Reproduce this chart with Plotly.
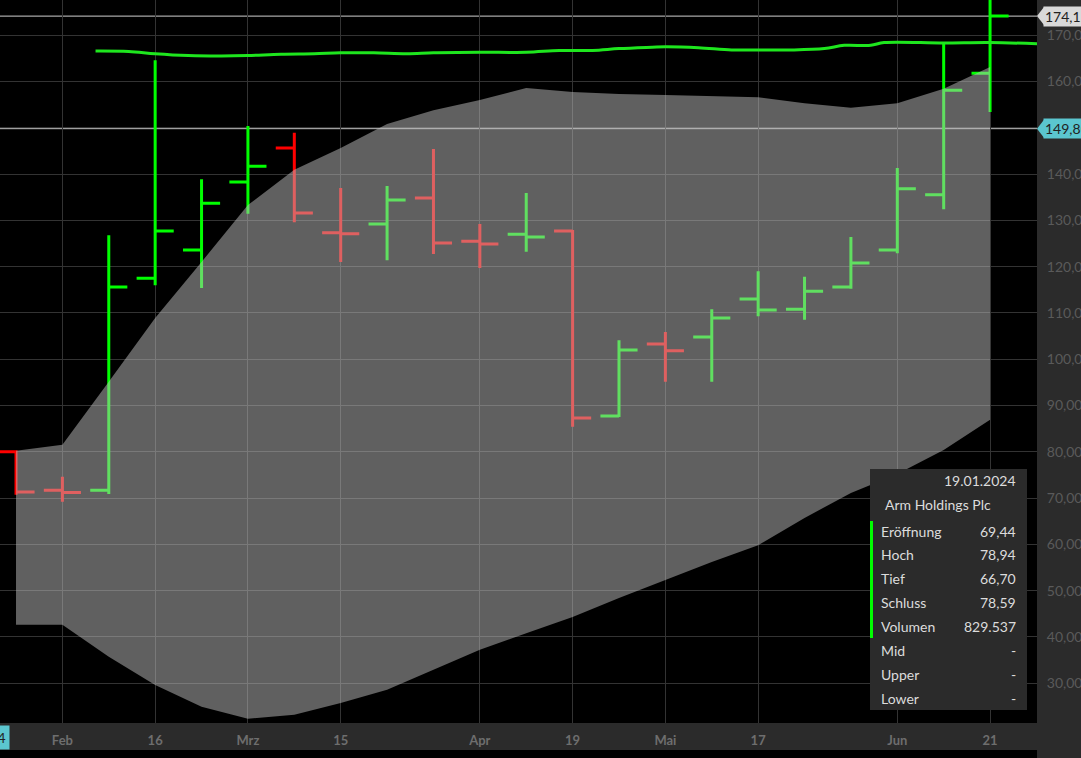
import plotly.graph_objects as go

# ---------------- data ----------------
dates = ["2024-01-19", "2024-01-26", "2024-02-02", "2024-02-09", "2024-02-16", "2024-02-23",
         "2024-03-01", "2024-03-08", "2024-03-15", "2024-03-22", "2024-03-29", "2024-04-05",
         "2024-04-12", "2024-04-19", "2024-04-26", "2024-05-03", "2024-05-10", "2024-05-17",
         "2024-05-24", "2024-05-31", "2024-06-07", "2024-06-14", "2024-06-21"]
opens = [69.44, 80.0, 71.7, 71.7, 117.5, 123.6, 138.3, 145.6, 127.3, 129.2, 134.8, 125.5,
         127.0, 127.7, 87.7, 103.3, 104.8, 113.0, 110.8, 115.6, 123.6, 135.5, 161.8]
highs = [78.94, 80.3, 74.6, 126.8, 164.6, 138.9, 150.4, 148.9, 137.0, 137.4, 145.4, 129.2,
         135.9, 127.9, 104.1, 105.9, 110.8, 119.0, 117.8, 126.4, 141.3, 168.1, 181.0]
lows = [66.70, 70.7, 69.2, 70.9, 116.0, 115.4, 131.4, 129.6, 121.0, 121.4, 122.7, 119.7,
        123.2, 85.4, 87.5, 95.1, 95.1, 109.3, 108.5, 115.2, 122.9, 132.4, 153.4]
closes = [78.59, 71.3, 71.2, 115.6, 127.7, 133.7, 141.7, 131.6, 127.1, 134.4, 125.1, 124.9,
          126.4, 87.3, 102.0, 101.8, 108.9, 110.6, 114.7, 120.8, 136.8, 158.1, 174.12]
volume_first = 829537

band_dates = dates[1:]
band_upper = [80.2, 81.5, 95.1, 108.9, 121.0, 133.3, 140.9, 145.6, 150.8, 153.8, 156.0,
              158.6, 157.7, 157.3, 157.1, 156.8, 156.6, 155.3, 154.3, 155.3, 158.4, 163.1]
band_lower = [42.6, 42.6, 35.7, 29.6, 24.9, 22.3, 23.2, 25.7, 28.6, 32.9, 37.2,
              40.8, 44.3, 48.4, 52.3, 56.2, 59.8, 65.7, 71.1, 75.2, 80.4, 86.9]

line_dates = ["2024-02-07", "2024-02-12", "2024-02-16", "2024-02-21", "2024-02-26", "2024-03-01",
              "2024-03-06", "2024-03-11", "2024-03-15", "2024-03-20", "2024-03-25", "2024-03-29",
              "2024-04-05", "2024-04-12", "2024-04-17", "2024-04-22", "2024-04-26", "2024-05-01",
              "2024-05-03", "2024-05-08", "2024-05-13", "2024-05-17", "2024-05-22", "2024-05-27",
              "2024-05-30", "2024-06-03", "2024-06-05", "2024-06-14", "2024-06-21", "2024-07-01"]
line_values = [166.6, 166.5, 166.0, 165.6, 165.5, 165.6, 165.9, 166.0, 166.2, 166.2, 166.0, 166.2,
               166.3, 166.3, 166.7, 166.7, 167.1, 167.4, 167.5, 167.3, 166.8, 166.8, 166.8, 167.1,
               167.8, 167.8, 168.4, 168.3, 168.4, 168.0]

tick_dates = ["2024-02-02", "2024-02-16", "2024-03-01", "2024-03-15", "2024-04-05",
              "2024-04-19", "2024-05-03", "2024-05-17", "2024-06-07", "2024-06-21"]
tick_text = ["Feb", "16", "Mrz", "15", "Apr", "19", "Mai", "17", "Jun", "21"]

last_price = 174.12
cross_price = 149.80
cross_date = "19.01.2024"
title_name = "Arm Holdings Plc"

# ---------------- helpers ----------------
W, H = 1081, 758
ML, MR, MT, MB = 0, 44, 0, 35
PW, PH = W - ML - MR, H - MT - MB
UNITS_PER_PX = (177.6 - 21.4) / PH


def px(x):
    return (x - ML) / PW


def py(y):
    return 1 - (y - MT) / PH


def de(v):
    return f"{v:.2f}".replace(".", ",")


up = [True] + [closes[i] >= closes[i - 1] for i in range(1, len(closes))]


def pick(arr, flag):
    return [a for a, u in zip(arr, up) if u == flag]


fig = go.Figure()
for flag, col in [(True, "#00ff00"), (False, "#ff0000")]:
    fig.add_trace(go.Ohlc(
        x=pick(dates, flag), open=pick(opens, flag), high=pick(highs, flag),
        low=pick(lows, flag), close=pick(closes, flag),
        increasing=dict(line=dict(color=col, width=3)),
        decreasing=dict(line=dict(color=col, width=3)),
        tickwidth=0.4, showlegend=False, hoverinfo="skip"))

fig.add_trace(go.Scatter(x=band_dates, y=band_lower, mode="lines", line=dict(width=0),
                         showlegend=False, hoverinfo="skip"))
fig.add_trace(go.Scatter(x=band_dates, y=band_upper, mode="lines", line=dict(width=0),
                         fill="tonexty", fillcolor="rgba(192,192,192,0.5)",
                         showlegend=False, hoverinfo="skip"))
fig.add_trace(go.Scatter(x=line_dates, y=line_values, mode="lines",
                         line=dict(color="#1ee61e", width=3, shape="spline"),
                         showlegend=False, hoverinfo="skip"))

panel = "#2b2b2b"
shapes = [
    # right axis panel
    dict(type="rect", xref="paper", yref="paper", x0=1, x1=px(W), y0=py(H), y1=1,
         fillcolor=panel, line=dict(width=0), layer="below"),
    # bottom axis band
    dict(type="rect", xref="paper", yref="paper", x0=0, x1=1, y0=py(750), y1=0,
         fillcolor=panel, line=dict(width=0), layer="below"),
    # price lines
    dict(type="line", xref="paper", yref="y", x0=0, x1=1, y0=last_price, y1=last_price,
         line=dict(color="#d0d0d0", width=1), layer="below"),
    dict(type="line", xref="paper", yref="y", x0=0, x1=1, y0=cross_price, y1=cross_price,
         line=dict(color="#c0c0c0", width=1), layer="below"),
    # tooltip box
    dict(type="rect", xref="paper", yref="paper", x0=px(870), x1=px(1027), y0=py(710), y1=py(469),
         fillcolor=panel, line=dict(width=0), layer="above"),
    dict(type="rect", xref="paper", yref="paper", x0=px(870), x1=px(873), y0=py(638), y1=py(521),
         fillcolor="#00ff00", line=dict(width=0), layer="above"),
]

# pointer tips of the price labels
half = 9 * UNITS_PER_PX
for val, col in [(last_price, "#d9d9d9"), (cross_price, "#5bc6cf")]:
    shapes.append(dict(type="path", xref="paper", yref="y",
                       path=f"M {px(1037)},{val} L {px(1044)},{val + half} L {px(1044)},{val - half} Z",
                       fillcolor=col, line=dict(width=0), layer="above"))

annotations = []
lab_font = dict(family="Lato", size=14, color="#222222")
annotations.append(dict(xref="paper", yref="y", x=px(1043), y=last_price, xanchor="left",
                        yanchor="middle", text=de(last_price), showarrow=False,
                        bgcolor="#d9d9d9", borderpad=1, font=lab_font))
annotations.append(dict(xref="paper", yref="y", x=px(1043), y=cross_price, xanchor="left",
                        yanchor="middle", text=de(cross_price), showarrow=False,
                        bgcolor="#5bc6cf", borderpad=1, font=lab_font))
annotations.append(dict(xref="paper", yref="paper", x=px(10), y=py(737), xanchor="right",
                        yanchor="middle", text=cross_date, showarrow=False,
                        bgcolor="#5bc6cf", borderpad=3, font=lab_font))

tip_font = dict(family="Lato", size=14, color="#dcdcdc")
annotations.append(dict(xref="paper", yref="paper", x=px(1018), y=py(480), xanchor="right",
                        yanchor="middle", text=cross_date, showarrow=False, font=tip_font))
annotations.append(dict(xref="paper", yref="paper", x=px(938), y=py(504), xanchor="center",
                        yanchor="middle", text=title_name, showarrow=False, font=tip_font))
tip_labels = ["Eröffnung", "Hoch", "Tief", "Schluss", "Volumen", "Mid", "Upper", "Lower"]
tip_values = [de(opens[0]), de(highs[0]), de(lows[0]), de(closes[0]),
              f"{volume_first:,}".replace(",", "."), "-", "-", "-"]
for i, (lab, val) in enumerate(zip(tip_labels, tip_values)):
    yy = py(531 + i * 23.9)
    annotations.append(dict(xref="paper", yref="paper", x=px(879), y=yy, xanchor="left",
                            yanchor="middle", text=lab, showarrow=False, font=tip_font))
    annotations.append(dict(xref="paper", yref="paper", x=px(1018), y=yy, xanchor="right",
                            yanchor="middle", text=val, showarrow=False, font=tip_font))

fig.update_layout(
    width=W, height=H, margin=dict(l=ML, r=MR, t=MT, b=MB, pad=0, autoexpand=False),
    paper_bgcolor="#000000", plot_bgcolor="#000000",
    separators=",.", hovermode=False, showlegend=False,
    shapes=shapes, annotations=annotations,
    xaxis=dict(type="date", range=["2024-01-23 14:00", "2024-06-28 02:00"], automargin=False,
               tickvals=tick_dates, ticktext=tick_text, showgrid=True, gridcolor="#333333",
               gridwidth=1, zeroline=False, showline=False, ticks="outside", ticklen=5,
               tickcolor=panel, tickfont=dict(family="Lato", size=13, color="#6e6e6e", weight="bold"),
               rangeslider=dict(visible=False), fixedrange=True),
    yaxis=dict(side="right", range=[21.4, 177.6], dtick=10, tick0=0, tickformat=".2f",
               automargin=False,
               showgrid=True, gridcolor="#333333", gridwidth=1, zeroline=False, showline=False,
               ticks="outside", ticklen=6, tickcolor=panel,
               tickfont=dict(family="Lato", size=14, color="#5a5a5a"), fixedrange=True),
)

fig.write_html("out.html", config={"displayModeBar": False},
               post_script="document.body.style.margin='0px';document.body.style.background='#000';")
